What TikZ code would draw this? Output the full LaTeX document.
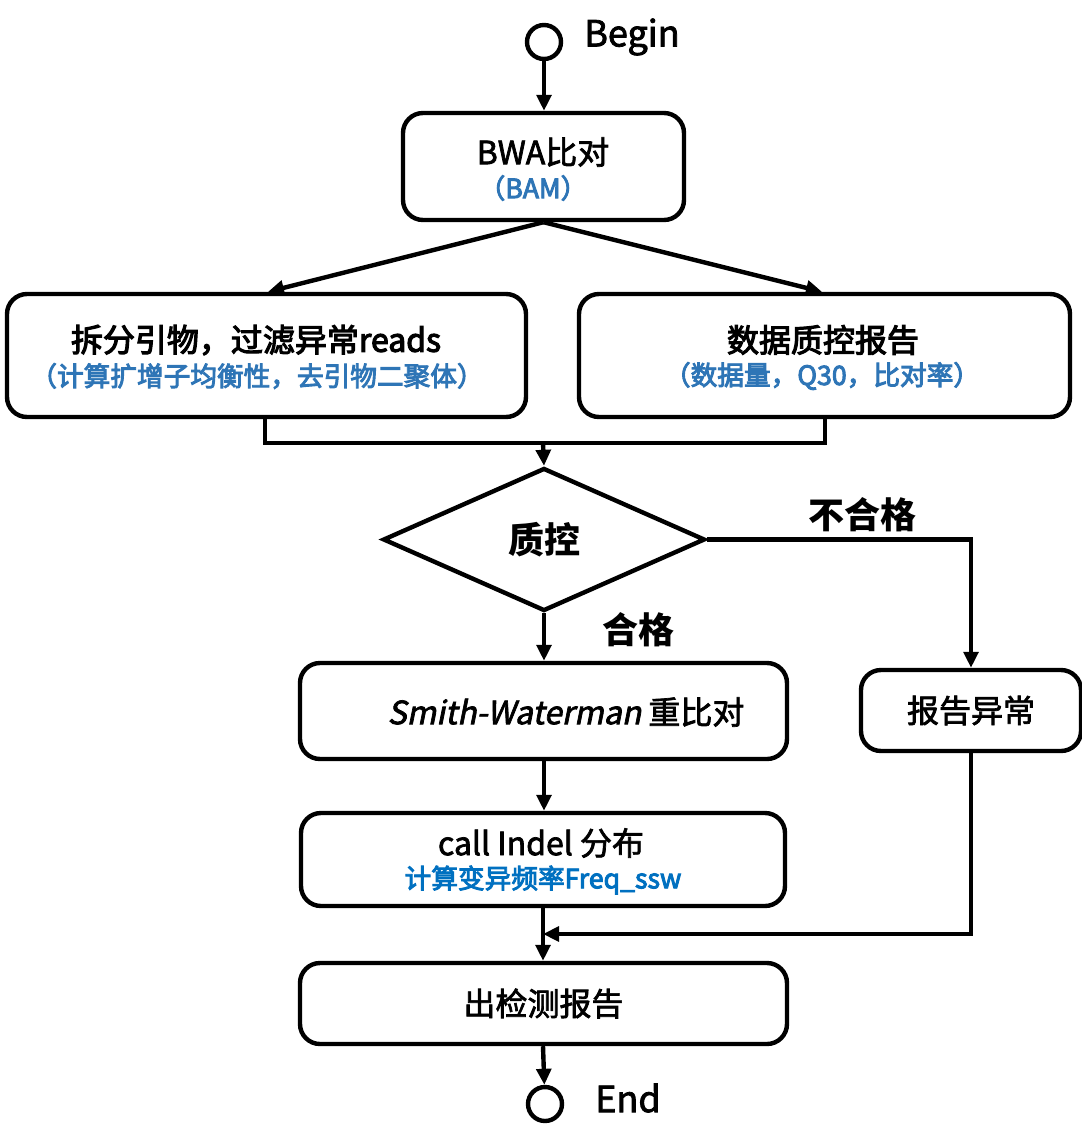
\documentclass[tikz,border=0pt]{standalone}
\usepackage{fontspec}
\setmainfont{Noto Sans CJK SC}[FakeBold=2.2,BoldFeatures={FakeBold=0}]
\newfontfamily\slantfont{Noto Sans CJK SC}[FakeSlant=0.2,FakeBold=2.2]
\newfontfamily\heavyfont{Noto Sans CJK SC}[FakeBold=3.5]
\usetikzlibrary{arrows.meta,shapes.geometric,calc}
\definecolor{subblue}{HTML}{2E75B6}
\definecolor{callblue}{HTML}{0070C0}
\begin{document}
\begin{tikzpicture}[x=0.75pt,y=-0.75pt,
  every node/.style={inner sep=0pt,align=center,font=\fontsize{24}{30}\selectfont},
  box/.style={draw,line width=3.3pt,rounded corners=15pt},
  term/.style={draw,circle,line width=3.3pt,minimum size=25.5pt},
  conn/.style={line width=3.3pt},
  arr/.style={line width=3.3pt,-{Triangle[length=12pt,width=11pt]}},
  head/.style={font=\fontsize{24}{30}\selectfont\heavyfont},
  sub/.style={font=\fontsize{20}{24}\selectfont\heavyfont},
  big/.style={font=\fontsize{27}{32}\selectfont\bfseries}]
\useasboundingbox (0,0) rectangle (1082,1143);

% start and end markers
\node[term] (begin) at (544,42) {};
\node[anchor=west,font=\fontsize{27}{30}\selectfont] (beginlbl) at (584,37) {Begin};
\node[term] (end) at (545,1104) {};
\node[anchor=west,font=\fontsize{27}{30}\selectfont] (endlbl) at (595,1098) {End};

% process boxes
\node[box,minimum width=210.75pt,minimum height=80.25pt] (bwa) at (543.5,166.5) {};
\node (bwat) at (543,152) {BWA比对};
\node[sub,text=subblue] (bwas) at (533,188) {（BAM）};

\node[box,minimum width=389.25pt,minimum height=92.25pt] (split) at (266.5,355.5) {};
\node[head] (splitt) at (256,340) {拆分引物，过滤异常reads};
\node[sub,text=subblue] (splits) at (257,376) {（计算扩增子均衡性，去引物二聚体）};

\node[box,minimum width=368.25pt,minimum height=92.25pt] (qcr) at (824.5,355.5) {};
\node[head] (qcrt) at (823,340) {数据质控报告};
\node[sub,text=subblue] (qcrs) at (822,376) {（数据量，Q30，比对率）};

\node[draw,diamond,line width=3.3pt,shape aspect=2.25,minimum width=241.5pt,minimum height=107.25pt,big] (qc) at (544,539.5) {质控};

\node[box,minimum width=165pt,minimum height=60.75pt] (err) at (971,710.5) {报告异常};

\node[box,minimum width=365.25pt,minimum height=72pt] (sw) at (543.5,711) {};
\node (swt) at (566,712) {{\slantfont Smith-Waterman} 重比对};

\node[box,minimum width=363pt,minimum height=69.75pt] (call) at (543,859.5) {};
\node (callt) at (541,843) {call Indel 分布};
\node[sub,text=callblue] (calls) at (543,880) {计算变异频率Freq\_ssw};

\node[box,minimum width=365.25pt,minimum height=60.75pt] (out) at (543.5,1003.5) {出检测报告};

% connectors
\draw[arr] (begin) -- (bwa.north -| begin);
\draw[arr] (bwa.south) -- ($(split.north)+(1.5,0)$);
\draw[arr] (bwa.south) -- ($(qcr.north)+(-2.5,0)$);
\coordinate (join) at (543,443);
\draw[conn] (split.south -| 265,0) |- (join) -| (qcr.south -| 825,0);
\draw[arr] (join) -- (qc.north);
\draw[arr] (qc.east) -| (err.north);
\node[big] (faillbl) at (862,515) {不合格};
\draw[arr] (qc.south) -- (sw.north -| qc.south);
\node[big] (passlbl) at (638,630) {合格};
\draw[arr] (sw.south -| qc.south) -- (call.north -| qc.south);
\coordinate (merge) at (543,934);
\draw[conn] (call.south -| merge) -- (merge);
\draw[arr] (merge) -- (out.north -| merge);
\draw[arr] (err.south) |- (merge);
\draw[arr] (out.south -| merge) -- (end);
\end{tikzpicture}
\end{document}
